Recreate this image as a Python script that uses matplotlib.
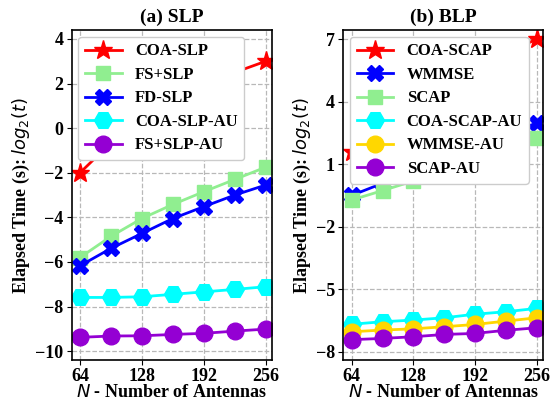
import matplotlib
matplotlib.use("Agg")
import matplotlib.pyplot as plt

# antenna counts
n_ant = [64, 96, 128, 160, 192, 224, 256]

# (a) SLP, log2 of elapsed time
coa_slp = [-2.0, -0.65, 0.3, 1.1, 1.8, 2.5, 3.0]
fs_slp = [-5.8, -4.85, -4.05, -3.42, -2.85, -2.3, -1.75]
fd_slp = [-6.17, -5.39, -4.72, -4.05, -3.52, -3.0, -2.55]
coa_slp_au = [-7.59, -7.59, -7.56, -7.45, -7.34, -7.23, -7.11]
fs_slp_au = [-9.38, -9.32, -9.31, -9.25, -9.2, -9.1, -9.01]

# (b) BLP, log2 of elapsed time
coa_scap = [1.6, 2.9, 3.9, 4.8, 5.6, 6.3, 7.0]
wmmse = [-0.5, 0.08, 0.6, 1.2, 1.8, 2.5, 2.96]
scap = [-0.72, -0.27, 0.19, 0.72, 1.3, 1.95, 2.24]
coa_scap_au = [-6.68, -6.56, -6.48, -6.37, -6.2, -6.08, -5.92]
wmmse_au = [-7.04, -6.96, -6.9, -6.8, -6.69, -6.53, -6.37]
scap_au = [-7.42, -7.36, -7.28, -7.17, -7.12, -6.97, -6.85]

x_ticks = [64, 128, 192, 256]
left_yticks = [4, 2, 0, -2, -4, -6, -8, -10]
right_yticks = [7, 4, 1, -2, -5, -8]

plt.rcParams["font.family"] = "Liberation Serif"
plt.rcParams["mathtext.fontset"] = "custom"
plt.rcParams["mathtext.it"] = "DejaVu Sans:style=italic:weight=normal"
plt.rcParams["mathtext.rm"] = "DejaVu Sans:weight=normal"

fig = plt.figure(figsize=(5.51, 4.01), dpi=100)
ax1 = fig.add_axes([0.130, 0.102, 0.364, 0.823])
ax2 = fig.add_axes([0.623, 0.102, 0.363, 0.823])

lw = 2
ax1.plot(n_ant, coa_slp, color="red", marker="*", markersize=14, lw=lw, label="COA-SLP")
ax1.plot(n_ant, fs_slp, color="lightgreen", marker="s", markersize=10, lw=lw, label="FS+SLP")
ax1.plot(n_ant, fd_slp, color="blue", marker="X", markersize=12, lw=lw, label="FD-SLP")
ax1.plot(n_ant, coa_slp_au, color="cyan", marker="H", markersize=13, lw=lw, label="COA-SLP-AU")
ax1.plot(n_ant, fs_slp_au, color="darkviolet", marker="o", markersize=12, lw=lw, label="FS+SLP-AU")

ax2.plot(n_ant, coa_scap, color="red", marker="*", markersize=14, lw=lw, label="COA-SCAP")
ax2.plot(n_ant, wmmse, color="blue", marker="X", markersize=12, lw=lw, label="WMMSE")
ax2.plot(n_ant, scap, color="lightgreen", marker="s", markersize=10, lw=lw, label="SCAP")
ax2.plot(n_ant, coa_scap_au, color="cyan", marker="H", markersize=13, lw=lw, label="COA-SCAP-AU")
ax2.plot(n_ant, wmmse_au, color="gold", marker="o", markersize=12, lw=lw, label="WMMSE-AU")
ax2.plot(n_ant, scap_au, color="darkviolet", marker="o", markersize=12, lw=lw, label="SCAP-AU")

ax1.set_title("(a) SLP", fontsize=14, fontweight="bold")
ax2.set_title("(b) BLP", fontsize=14, fontweight="bold")
ax1.set_ylim(-10.4, 4.4)
ax2.set_ylim(-8.4, 7.43)
ax1.set_yticks(left_yticks)
ax2.set_yticks(right_yticks)

for ax in (ax1, ax2):
    ax.set_xlim(55.3, 262.8)
    ax.set_xticks(x_ticks)
    ax.grid(True, linestyle="--", color="#b8b8b8", lw=0.9)
    ax.tick_params(labelsize=13, pad=2.5)
    for lab in ax.get_xticklabels() + ax.get_yticklabels():
        lab.set_fontweight("bold")
    ax.set_xlabel("$N$ - Number of Antennas", fontsize=13, fontweight="bold", labelpad=-1)
    ax.set_ylabel("Elapsed Time (s): $log_2(t)$", fontsize=13, fontweight="bold", labelpad=2)
    for s in ax.spines.values():
        s.set_linewidth(1.2)
    ax.legend(loc="upper left", framealpha=1, borderaxespad=0.4,
              handlelength=2.2, labelspacing=0.45, fancybox=True,
              prop={"size": 12, "weight": "bold"})

fig.savefig("out.png", dpi=100)
